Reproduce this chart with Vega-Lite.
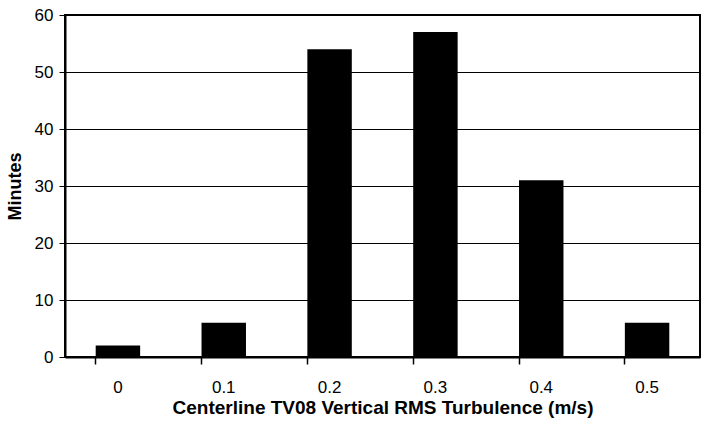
{
  "$schema": "https://vega.github.io/schema/vega-lite/v6.json",
  "autosize": {"type": "none"},
  "padding": {"left": 65, "top": 15, "right": 2, "bottom": 68},
  "width": 635,
  "height": 342,
  "background": "white",
  "config": {
    "view": {"stroke": "black", "strokeWidth": 2},
    "font": "Liberation Sans"
  },
  "data": {
    "values": [
      {"bin": "0", "minutes": 2},
      {"bin": "0.1", "minutes": 6},
      {"bin": "0.2", "minutes": 54},
      {"bin": "0.3", "minutes": 57},
      {"bin": "0.4", "minutes": 31},
      {"bin": "0.5", "minutes": 6}
    ]
  },
  "mark": {"type": "bar", "color": "black"},
  "encoding": {
    "x": {
      "field": "bin",
      "type": "ordinal",
      "sort": null,
      "scale": {"paddingInner": 0.58, "paddingOuter": 0.29},
      "axis": {
        "title": "Centerline TV08 Vertical RMS Turbulence (m/s)",
        "titleFont": "Liberation Sans",
        "titleFontSize": 19,
        "titleFontWeight": "bold",
        "titleColor": "black",
        "titlePadding": 3,
        "labelAngle": 0,
        "labelFont": "Liberation Sans",
        "labelFontSize": 17,
        "labelColor": "black",
        "labelPadding": 15,
        "bandPosition": 0,
        "tickSize": 7,
        "tickColor": "black",
        "tickWidth": 1.5,
        "domainColor": "black",
        "domainWidth": 2,
        "grid": false
      }
    },
    "y": {
      "field": "minutes",
      "type": "quantitative",
      "scale": {"domain": [0, 60], "nice": false},
      "axis": {
        "title": "Minutes",
        "titleFont": "Liberation Sans",
        "titleFontSize": 18,
        "titleFontWeight": "bold",
        "titleColor": "black",
        "titlePadding": 10,
        "values": [0, 10, 20, 30, 40, 50, 60],
        "labelFont": "Liberation Sans",
        "labelFontSize": 17,
        "labelColor": "black",
        "labelPadding": 6,
        "tickSize": 6,
        "tickColor": "black",
        "domainColor": "black",
        "domainWidth": 2,
        "grid": true,
        "gridColor": "black",
        "gridWidth": 1.2,
        "gridOpacity": 1
      }
    }
  }
}
